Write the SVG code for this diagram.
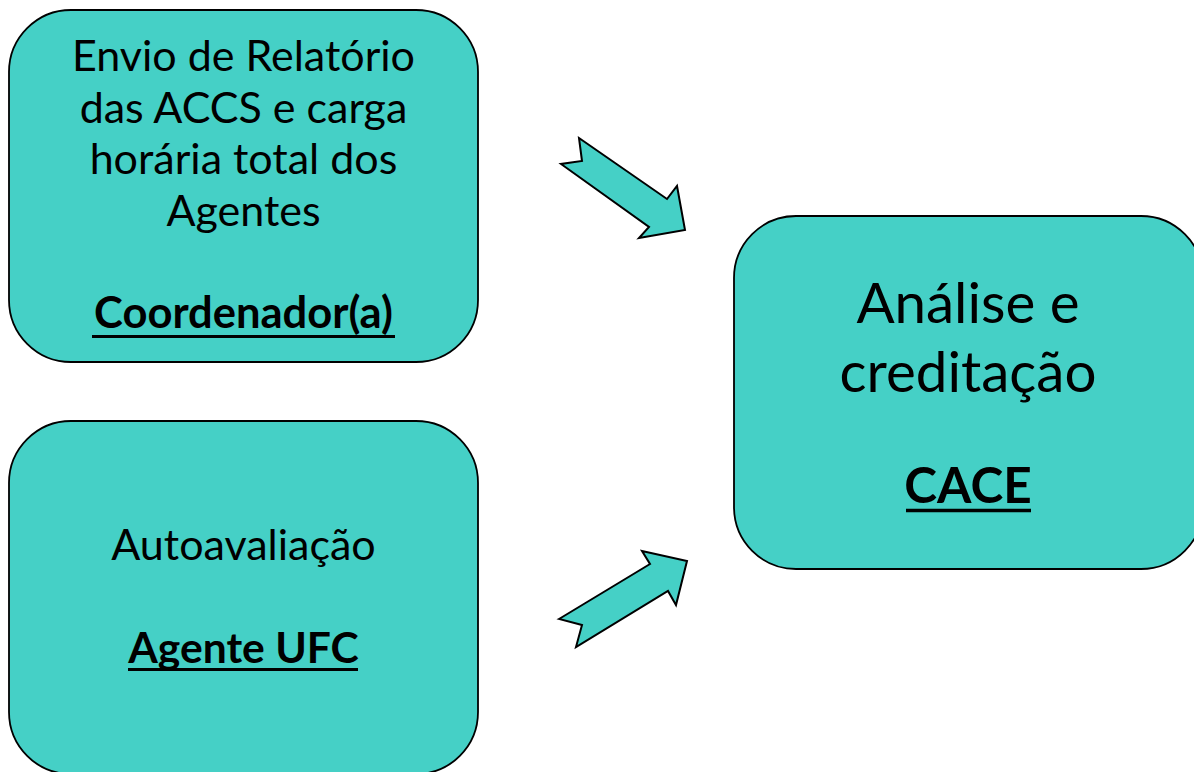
<svg xmlns="http://www.w3.org/2000/svg" width="1194" height="772" viewBox="0 0 1194 772">
<style>
.box{fill:#45D0C6;stroke:#000;stroke-width:1.8}
.arr{fill:#45D0C6;stroke:#000;stroke-width:2;stroke-linejoin:miter}
.ul{stroke:#000;stroke-width:3}
text{font-family:Lato,"Noto Sans","Liberation Sans",sans-serif;fill:#000;text-anchor:middle}
.t{font-size:43px}
.b{font-size:43.5px;font-weight:bold}
.tl{font-size:56.5px}
.bl{font-size:49.5px;font-weight:bold}
</style>
<rect width="1194" height="772" fill="#fff"/>
<g id="node-coord">
<rect class="box" x="9" y="10" width="469" height="352" rx="62" ry="62"/>
<text class="t" x="243.5" y="71">Envio de Relatório</text>
<text class="t" x="243.5" y="122.5">das ACCS e carga</text>
<text class="t" x="243.5" y="174">horária total dos</text>
<text class="t" x="243.5" y="226">Agentes</text>
<text class="b" x="243.5" y="328">Coordenador(a)</text>
<line class="ul" x1="92" y1="336.5" x2="395" y2="336.5"/>
</g>
<g id="node-agente">
<rect class="box" x="9" y="421" width="469" height="353" rx="62" ry="62"/>
<text class="t" x="243.5" y="560">Autoavaliação</text>
<text class="b" x="243.5" y="663" style="font-size:42.6px">Agente UFC</text>
<line class="ul" x1="128" y1="669.5" x2="358" y2="669.5"/>
</g>
<g id="node-cace">
<rect class="box" x="734" y="216" width="469" height="353" rx="62" ry="62"/>
<text class="tl" x="968" y="323">Análise e</text>
<text class="tl" x="968" y="392">creditação</text>
<text class="bl" x="968" y="503">CACE</text>
<line class="ul" x1="906" y1="510.5" x2="1031" y2="510.5" style="stroke-width:3.5"/>
</g>
<g id="connectors">
<polygon class="arr" points="579,138 667,199 677,186 685,230 639,238 649,227 561,164 582,161"/>
<polygon class="arr" points="559,619 650,564 642,551 687,561 676,605 668,591 576,647 582,625"/>
</g>
</svg>
